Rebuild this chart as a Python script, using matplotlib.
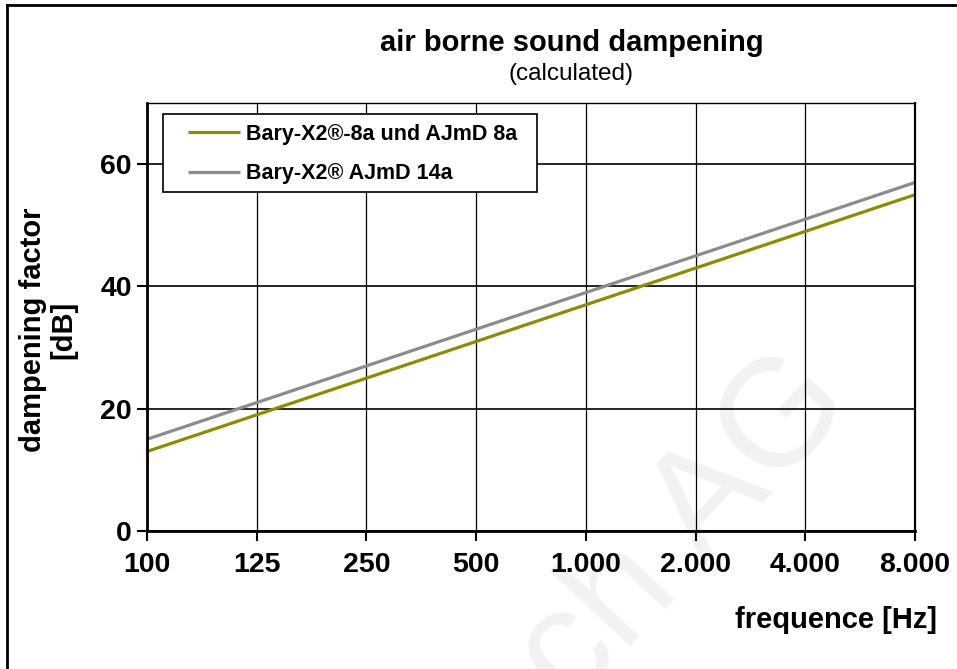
import numpy as np
import matplotlib
matplotlib.use("Agg")
import matplotlib.pyplot as plt
from matplotlib.lines import Line2D
from matplotlib.patches import Rectangle

plt.rcParams["font.family"] = ["Liberation Sans", "DejaVu Sans"]

# datos
frequencies = ["100", "125", "250", "500", "1.000", "2.000", "4.000", "8.000"]
bary_8a = [13, 19, 25, 31, 37, 43, 49, 55]
bary_14a = [15, 21, 27, 33, 39, 45, 51, 57]
series_labels = ["Bary-X2®-8a und AJmD 8a", "Bary-X2® AJmD 14a"]
series_colors = ["#8c8c00", "#8c8c8c"]
y_ticks = [0, 20, 40, 60]

fig = plt.figure(figsize=(9.57, 6.69), dpi=100)
ax = fig.add_axes([0.1536, 0.2063, 0.8025, 0.6397])
ax.set_facecolor("none")

x = np.arange(len(frequencies))
ax.plot(x, bary_8a, color=series_colors[0], lw=2.3, label=series_labels[0], solid_capstyle="butt")
ax.plot(x, bary_14a, color=series_colors[1], lw=2.3, label=series_labels[1], solid_capstyle="butt")

ax.set_xlim(0, len(frequencies) - 1)
ax.set_ylim(0, 70)
ax.set_xticks(x)
ax.set_xticklabels(frequencies, fontsize=20.5, fontweight="bold")
ax.set_yticks(y_ticks)
ax.set_yticklabels([str(v) for v in y_ticks], fontsize=20.5, fontweight="bold")
ax.tick_params(axis="both", direction="out", length=7, width=1.5, color="black", pad=4)
ax.tick_params(axis="x", pad=8)

ax.grid(True, axis="x", color="black", lw=0.9)
ax.grid(True, axis="y", color="black", lw=1.2)
ax.set_axisbelow(True)
for side, w in [("left", 2.0), ("bottom", 2.0), ("right", 1.6), ("top", 1.0)]:
    ax.spines[side].set_linewidth(w)
    ax.spines[side].set_color("black")

# caja de la leyenda (mas ancha que la que dibuja matplotlib)
ax.add_patch(Rectangle((0.0208, 0.792), 0.487, 0.182, transform=ax.transAxes,
                       facecolor="white", edgecolor="black", lw=1.2, zorder=4))
leg = ax.legend(loc="upper left", bbox_to_anchor=(0.0534, 0.951),
                prop={"weight": "bold", "size": 15.5}, frameon=False,
                handlelength=2.4, handletextpad=0.3,
                borderpad=0, labelspacing=0.85, borderaxespad=0)
leg.set_zorder(5)

fig.text(0.597, 0.935, "air borne sound dampening", ha="center", va="center",
         fontsize=21, fontweight="bold")
fig.text(0.597, 0.889, "(calculated)", ha="center", va="center", fontsize=17.5)
fig.text(0.050, 0.507, "dampening factor\n[dB]", ha="center", va="center",
         rotation=90, fontsize=21, fontweight="bold", linespacing=1.12)
fig.text(0.979, 0.073, "frequence [Hz]", ha="right", va="center",
         fontsize=21, fontweight="bold")

# marca de agua tenue
fig.text(0.894, 0.395, "ch AG", ha="right", va="baseline", rotation=47,
         rotation_mode="anchor", fontsize=110, color="#f2f2f2", zorder=-5)

# borde exterior (solo arriba e izquierda)
fig.add_artist(Line2D([0.0075, 1.0], [0.9925, 0.9925], transform=fig.transFigure,
                      color="black", lw=2))
fig.add_artist(Line2D([0.0075, 0.0075], [0.0, 0.9925], transform=fig.transFigure,
                      color="black", lw=2))

fig.savefig("out.png", dpi=100)
